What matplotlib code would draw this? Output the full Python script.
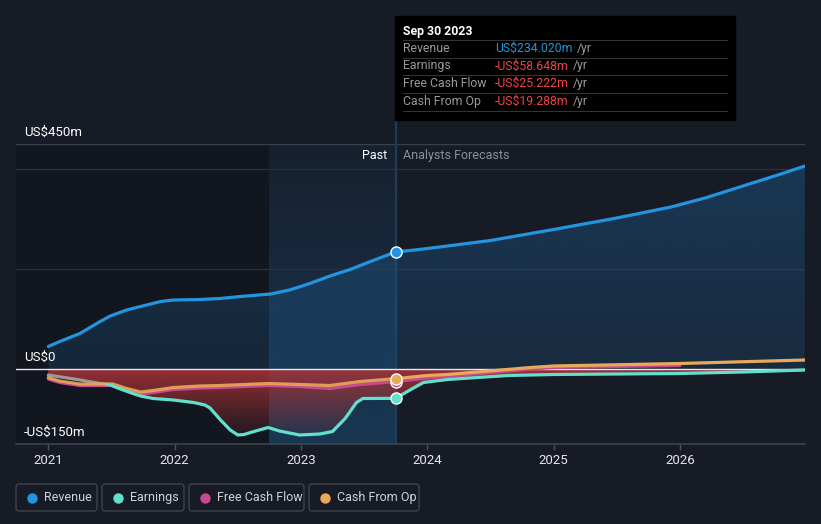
import numpy as np
import matplotlib
matplotlib.use("Agg")
import matplotlib.pyplot as plt
from matplotlib.lines import Line2D
from matplotlib.patches import Rectangle, FancyBboxPatch
from matplotlib.colors import to_rgb

plt.rcParams['font.family'] = ['Roboto', 'DejaVu Sans']

# ---- data (US$ m, decimal years) ----
rev_past_t = [2021.0, 2021.09, 2021.25, 2021.41, 2021.49, 2021.62, 2021.73, 2021.89, 2021.99,
              2022.20, 2022.36, 2022.52, 2022.76, 2022.91, 2023.07, 2023.23, 2023.39, 2023.55, 2023.75]
rev_past_v = [45, 55, 71, 95, 106, 118, 125, 135, 138,
              139, 141, 145, 150, 158, 171, 186, 199, 215, 234.02]
rev_fc_t = [2023.75, 2023.97, 2024.16, 2024.5, 2025.0, 2025.5, 2025.93, 2026.2, 2026.5, 2026.8, 2026.99]
rev_fc_v = [234.02, 240, 246, 257, 279, 302, 324, 342, 366, 390, 406]

earn_na_t = [2021.0, 2021.25, 2021.41, 2021.47]
earn_na_v = [-12, -22, -29, -31]
earn_past_t = [2021.47, 2021.49, 2021.57, 2021.67, 2021.73, 2021.83, 2021.99, 2022.15, 2022.24, 2022.28,
               2022.36, 2022.44, 2022.50, 2022.55, 2022.60, 2022.74, 2022.83, 2022.99, 2023.15, 2023.25,
               2023.35, 2023.44, 2023.49, 2023.75]
earn_past_v = [-31, -32, -40, -49, -54, -59, -62, -67, -72, -78,
               -101, -122, -132, -131, -127, -117, -124, -132, -130, -125,
               -99, -67, -59, -58.648]
earn_fc_t = [2023.75, 2023.87, 2023.97, 2024.16, 2024.64, 2025.0, 2026.0, 2026.5, 2026.99]
earn_fc_v = [-58.648, -41, -27, -21, -13, -11, -9, -6, -2]

cfo_past_t = [2021.0, 2021.09, 2021.25, 2021.41, 2021.51, 2021.62, 2021.73, 2021.83, 2021.99,
              2022.20, 2022.36, 2022.74, 2022.99, 2023.23, 2023.47, 2023.75]
cfo_past_v = [-17, -24, -30, -30, -30, -39, -46, -43, -37, -34, -33, -29, -31, -33, -25, -19.288]
cfo_fc_t = [2023.75, 2024.0, 2024.16, 2024.82, 2025.0, 2026.0, 2026.99]
cfo_fc_v = [-19.288, -13, -11, 3, 6, 11, 18]

fcf_past_t = cfo_past_t
fcf_past_v = [-20, -27, -33, -33, -33, -42, -50, -47, -41, -38, -37, -33, -35, -39, -31, -25.222]
fcf_fc_t = [2023.75, 2024.0, 2024.16, 2024.82, 2025.0, 2026.0]
fcf_fc_v = [-25.222, -18, -15, 0, 3, 7]

years = [2021, 2022, 2023, 2024, 2025, 2026]
now = 2023.75

C_REV = '#2394df'
C_EARN = '#62dfcd'
C_FCF = '#c9488f'
C_CFO = '#e8a958'
BG = '#161b26'

W, H = 821, 524
fig = plt.figure(figsize=(W / 100, H / 100), dpi=100, facecolor=BG)
ax = fig.add_axes([16 / W, 80 / H, (805 - 16) / W, 300 / H])
ax.set_facecolor('none')
x0, x1 = 2020.744, 2026.991
y0, y1 = -150, 450


def gradient_fill(t, v, rgb, a_top, a_bot, top, bot, z):
    poly = ax.fill_between(t, v, 0, facecolor='none', edgecolor='none')
    img = np.zeros((256, 1, 4))
    img[:, :, :3] = to_rgb(rgb)
    img[:, 0, 3] = np.linspace(a_top, a_bot, 256)
    im = ax.imshow(img, extent=[min(t), max(t), bot, top], aspect='auto',
                   origin='upper', zorder=z, interpolation='bilinear')
    im.set_clip_path(poly.get_paths()[0], transform=ax.transData)


# background regions
ax.add_patch(Rectangle((x0, y0), 2022.75 - x0, y1 - y0, color='#12161e', zorder=0, lw=0))
band = np.zeros((256, 1, 4))
band[:, :, :3] = to_rgb('#1d5d92')
band[:, 0, 3] = np.linspace(0.08, 0.42, 256)
ax.imshow(band, extent=[2022.75, now, y0, y1], aspect='auto', origin='upper', zorder=0.5)
ax.axvline(now, color='#1f3d58', lw=1.6, zorder=1)

# grid
for g in [200, 400]:
    ax.axhline(g, color='#2b313b', lw=0.9, zorder=1)
ax.axhline(450, color='#3a404a', lw=1.0, zorder=1)

# fills
rev_t = rev_past_t + rev_fc_t[1:]
rev_v = rev_past_v + rev_fc_v[1:]
gradient_fill(rev_t, rev_v, '#1f5a8c', 0.45, 0.25, 410, 0, 1.5)

neg_t = earn_na_t + earn_past_t[1:] + earn_fc_t[1:]
neg_v = earn_na_v + earn_past_v[1:] + earn_fc_v[1:]
gradient_fill(neg_t, neg_v, '#ad3438', 0.85, 0.05, 0, -140, 1.6)

ax.axhline(0, color='#e8e8e8', lw=1.0, zorder=2)

# lines
lw = 2.3
kw = dict(solid_capstyle='round', solid_joinstyle='round')
ax.plot(rev_past_t, rev_past_v, color=C_REV, lw=lw, zorder=5, **kw)
ax.plot(rev_fc_t, rev_fc_v, color=C_REV, lw=lw, zorder=5, **kw)
ax.plot(fcf_past_t, fcf_past_v, color=C_FCF, lw=lw, zorder=4, **kw)
ax.plot(fcf_fc_t, fcf_fc_v, color=C_FCF, lw=lw, zorder=4, **kw)
ax.plot(cfo_past_t, cfo_past_v, color=C_CFO, lw=lw, zorder=4.5, alpha=0.9, **kw)
ax.plot(cfo_fc_t, cfo_fc_v, color=C_CFO, lw=lw, zorder=4.5, **kw)
ax.plot(earn_na_t, earn_na_v, color='#9a9a9a', lw=lw, zorder=4.2, **kw)
ax.plot(earn_past_t, earn_past_v, color=C_EARN, lw=lw, zorder=4.8, **kw)
ax.plot(earn_fc_t, earn_fc_v, color=C_EARN, lw=lw, zorder=4.8, **kw)

for val, c, z in [(rev_past_v[-1], C_REV, 7), (earn_past_v[-1], C_EARN, 7),
                  (fcf_past_v[-1], C_FCF, 6.5), (cfo_past_v[-1], C_CFO, 7)]:
    ax.plot([now], [val], marker='o', ms=8, color=c, mec='white', mew=1.0, zorder=z)

ax.set_xlim(x0, x1)
ax.set_ylim(y0, y1)
ax.set_yticks([])
ax.set_xticks(years)
ax.set_xticklabels([str(y) for y in years])
ax.tick_params(axis='x', colors='#4a505a', labelcolor='#e6e6e6', labelsize=9.5,
               length=4, width=1, pad=3)
for s in ['top', 'left', 'right']:
    ax.spines[s].set_visible(False)
ax.spines['bottom'].set_color('#3d434d')
ax.spines['bottom'].set_linewidth(1.2)


def fx(x):
    return x / W


def fy(y):
    return 1 - y / H


# "now" line between tooltip and plot top
fig.add_artist(Line2D([fx(395.5), fx(395.5)], [fy(120), fy(144)], color='#1f3d58', lw=1.6, zorder=3))

# y labels
for lab, yy in [('US$450m', 132), ('US$0', 357), ('-US$150m', 432)]:
    fig.text(fx(24), fy(yy), lab, color='white', fontsize=9.5, va='center', ha='left')

fig.text(fx(387), fy(156), 'Past', color='white', fontsize=9, ha='right', va='center')
fig.text(fx(403), fy(156), 'Analysts Forecasts', color='#8a9099', fontsize=9, ha='left', va='center')

# tooltip
fig.add_artist(Rectangle((fx(395), fy(120)), fx(735) - fx(395), fy(16) - fy(120),
                         transform=fig.transFigure, color='#000000', zorder=10))
fig.text(fx(403), fy(31), 'Sep 30 2023', color='white', fontsize=8.8, fontweight='bold',
         va='center', zorder=11)
rows = [('Revenue', 'US$234.020m', C_REV),
        ('Earnings', '-US$58.648m', '#ef4444'),
        ('Free Cash Flow', '-US$25.222m', '#ef4444'),
        ('Cash From Op', '-US$19.288m', '#ef4444')]
renderer = fig.canvas.get_renderer()
for i, (lab, val, c) in enumerate(rows):
    yy = 48.5 + i * 17.5
    fig.add_artist(Line2D([fx(403), fx(727)], [fy(yy - 8.5), fy(yy - 8.5)],
                          color='#333333', lw=0.8, zorder=11))
    fig.text(fx(403), fy(yy), lab, color='#9a9a9a', fontsize=8.8, va='center', zorder=11)
    t = fig.text(fx(495), fy(yy), val, color=c, fontsize=8.8, va='center', zorder=11)
    bb = t.get_window_extent(renderer)
    fig.text(fx(bb.x1 + 4), fy(yy), '/yr', color='#9a9a9a', fontsize=8.8,
             va='center', zorder=11)
fig.add_artist(Line2D([fx(403), fx(727)], [fy(110.5), fy(110.5)], color='#333333', lw=0.8, zorder=11))

# legend
legend = [('Revenue', C_REV, 16, 97), ('Earnings', C_EARN, 102, 184),
          ('Free Cash Flow', C_FCF, 189, 304), ('Cash From Op', C_CFO, 309, 419)]
for lab, c, a, b in legend:
    fig.add_artist(FancyBboxPatch((fx(a), fy(511)), fx(b) - fx(a), fy(484) - fy(511),
                                  boxstyle='round,pad=0,rounding_size=0.004',
                                  mutation_aspect=W / H, transform=fig.transFigure,
                                  facecolor='none', edgecolor='#3d424b', lw=1.0))
    fig.add_artist(Line2D([fx(a + 16)], [fy(497.5)], marker='o', ms=6.5, color=c,
                          transform=fig.transFigure))
    fig.text(fx(a + 28), fy(497.5), lab, color='#d0d3d8', fontsize=9, va='center')

fig.savefig('out.png', dpi=100, facecolor=BG)
